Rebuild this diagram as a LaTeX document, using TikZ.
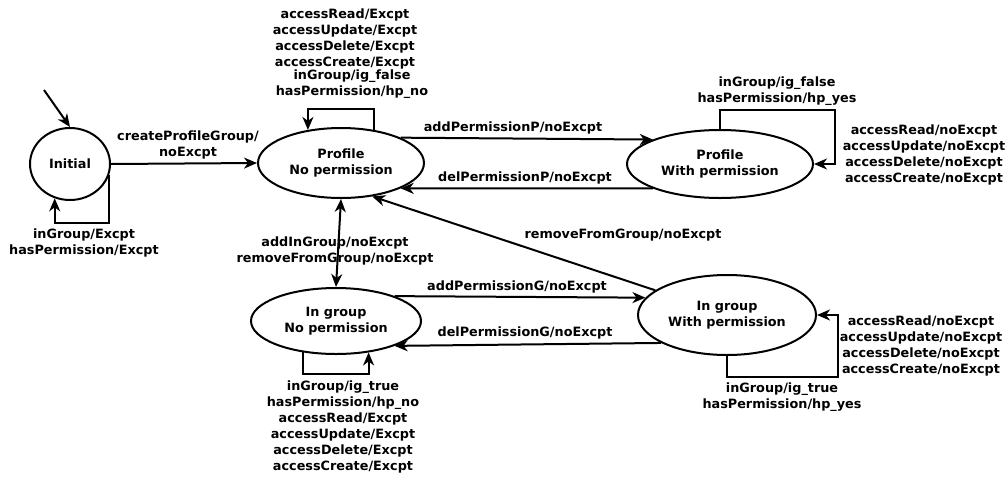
\documentclass[tikz,border=0pt]{standalone}
\usepackage{fontspec}
\setmainfont{DejaVu Sans}
\usetikzlibrary{arrows.meta,shapes.geometric}
\begin{document}
\begin{tikzpicture}[x=1pt,y=-1pt,
  every node/.style={font=\fontsize{12.8}{16}\selectfont\bfseries},
  state/.style={draw,ellipse,line width=2pt,inner sep=0pt,align=center},
  lbl/.style={align=center,inner sep=0pt},
  tr/.style={line width=2pt,-{Stealth[length=13pt,width=11pt,inset=4pt]}},
  trb/.style={line width=2pt,{Stealth[length=13pt,width=11pt,inset=4pt]}-{Stealth[length=13pt,width=11pt,inset=4pt]}}]
\useasboundingbox (0,0) rectangle (1008,477);
\fill[white] (0,0) rectangle (1008,477);
% states
\node[state,minimum width=80pt,minimum height=72pt] (init) at (70,164) {Initial};
\node[state,minimum width=166pt,minimum height=70pt] (np) at (341,163) {Profile\\No permission};
\node[state,minimum width=186pt,minimum height=68pt] (wp) at (720,164) {Profile\\With permission};
\node[state,minimum width=170pt,minimum height=66pt] (ignp) at (336,321) {In group\\No permission};
\node[state,minimum width=178pt,minimum height=80pt] (igwp) at (727,315) {In group\\With permission};
\coordinate (start) at (44,90);
% transitions
\draw[tr] (start) -- (init.north);
\draw[tr] (init.east) -- (np.west);
\draw[tr] (init.-16) -- ++(0,48) -| (init.-114);
\draw[tr] (np.45) -- ++(0,-21) -| (np.135);
\draw[tr] (np.23) -- (wp.160);
\draw[tr] (wp.200) -- (np.-23);
\draw[tr] (wp.north) -- ++(0,-19) -| ([xshift=21pt]wp.east) -- (wp.east);
\draw[trb] (np.south) -- (ignp.north);
\draw[tr] (igwp.161) -- (np.-47);
\draw[tr] (ignp.23) -- (igwp.168);
\draw[tr] (igwp.203) -- (ignp.-23);
\draw[tr] (ignp.-136) -- ++(0,22) -| (ignp.-44);
\draw[tr] (igwp.south) -- ++(0,21) -| ([xshift=21pt]igwp.east) -- (igwp.east);
% labels
\node[lbl] (l1) at (188,145) {createProfileGroup/\\noExcpt};
\node[lbl] (l2) at (84,243) {inGroup/Excpt\\hasPermission/Excpt};
\node[lbl] (l3) at (345,39) {accessRead/Excpt\\accessUpdate/Excpt\\accessDelete/Excpt\\accessCreate/Excpt};
\node[lbl] (l4) at (352,84) {inGroup/ig\_false\\hasPermission/hp\_no};
\node[lbl] (l5) at (513,128) {addPermissionP/noExcpt};
\node[lbl] (l6) at (525,178) {delPermissionP/noExcpt};
\node[lbl] (l7) at (777,91) {inGroup/ig\_false\\hasPermission/hp\_yes};
\node[lbl] (l8) at (924,155) {accessRead/noExcpt\\accessUpdate/noExcpt\\accessDelete/noExcpt\\accessCreate/noExcpt};
\node[lbl] (l9) at (335,251) {addInGroup/noExcpt\\removeFromGroup/noExcpt};
\node[lbl] (l10) at (623,235) {removeFromGroup/noExcpt};
\node[lbl] (l11) at (517,287) {addPermissionG/noExcpt};
\node[lbl] (l12) at (525,333) {delPermissionG/noExcpt};
\node[lbl] (l13) at (343,427) {inGroup/ig\_true\\hasPermission/hp\_no\\accessRead/Excpt\\accessUpdate/Excpt\\accessDelete/Excpt\\accessCreate/Excpt};
\node[lbl] (l14) at (782,397) {inGroup/ig\_true\\hasPermission/hp\_yes};
\node[lbl] (l15) at (921,346) {accessRead/noExcpt\\accessUpdate/noExcpt\\accessDelete/noExcpt\\accessCreate/noExcpt};
\end{tikzpicture}
\end{document}
